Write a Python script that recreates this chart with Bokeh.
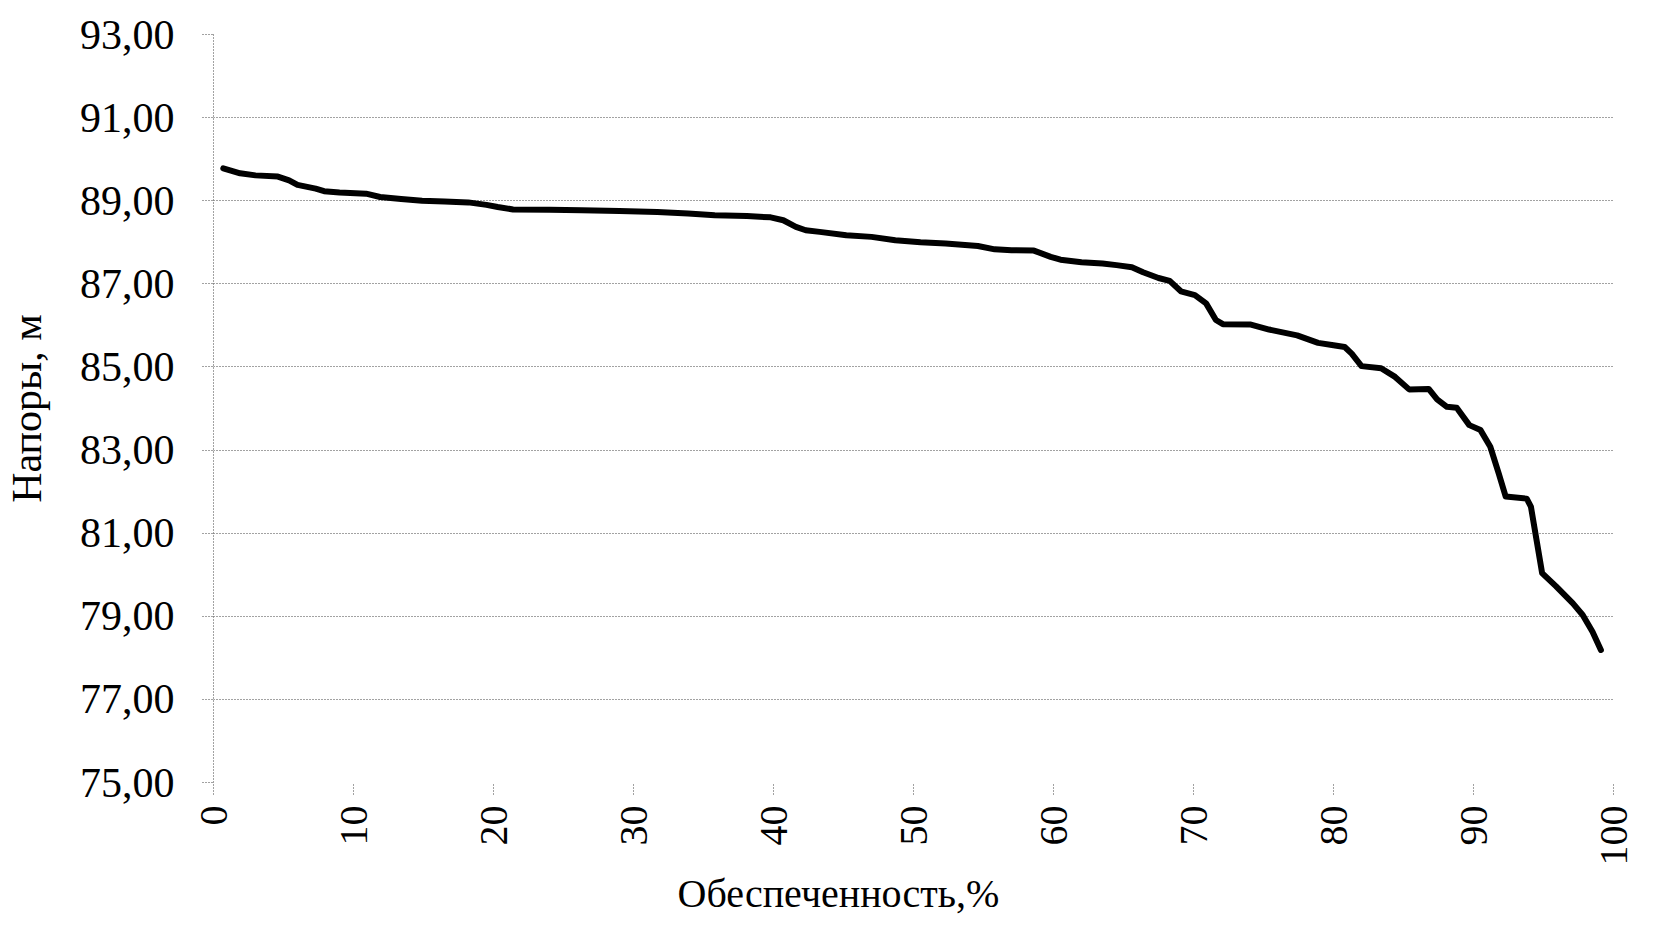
import math
from bokeh.plotting import figure
from bokeh.models import Range1d, FixedTicker, Title, ColumnDataSource
from bokeh.embed import file_html
from bokeh.resources import INLINE

# Data
supply_pct = [0.7, 1.9, 3.0, 4.6, 5.4, 6.0, 7.3, 7.9, 9.0, 10.9, 11.9, 13.4, 14.9, 16.5,
              18.2, 19.5, 20.3, 21.4, 24.0, 26.3, 29.0, 31.7, 33.9, 35.8, 38.1, 39.8,
              40.7, 41.6, 42.3, 43.3, 45.2, 47.0, 48.7, 50.5, 52.3, 54.6, 55.8, 57.0,
              58.6, 59.8, 60.5, 62.0, 63.5, 64.5, 65.6, 66.4, 67.5, 68.3, 69.1, 70.1,
              70.9, 71.6, 72.1, 74.1, 75.4, 77.4, 78.9, 80.0, 80.8, 81.3, 82.0, 83.4,
              84.4, 85.4, 86.8, 87.4, 88.1, 88.8, 89.7, 90.5, 91.2, 91.8, 92.3, 93.8,
              94.1, 94.5, 94.9, 95.9, 97.1, 97.8, 98.5, 99.1]
heads_m = [89.78, 89.66, 89.61, 89.58, 89.49, 89.38, 89.29, 89.23, 89.20, 89.17, 89.09,
           89.04, 89.00, 88.98, 88.96, 88.90, 88.85, 88.79, 88.78, 88.77, 88.75, 88.73,
           88.69, 88.65, 88.63, 88.60, 88.53, 88.37, 88.29, 88.25, 88.17, 88.13, 88.05,
           88.00, 87.97, 87.91, 87.83, 87.81, 87.80, 87.65, 87.58, 87.52, 87.49, 87.45,
           87.40, 87.28, 87.14, 87.07, 86.82, 86.73, 86.53, 86.13, 86.03, 86.02, 85.90,
           85.76, 85.58, 85.52, 85.48, 85.32, 85.02, 84.97, 84.76, 84.46, 84.47, 84.22,
           84.04, 84.02, 83.60, 83.48, 83.08, 82.44, 81.88, 81.83, 81.64, 80.84, 80.04,
           79.72, 79.31, 79.03, 78.63, 78.19]

x_ticks = [0, 10, 20, 30, 40, 50, 60, 70, 80, 90, 100]
y_ticks = [75, 77, 79, 81, 83, 85, 87, 89, 91, 93]
y_tick_labels = ["75,00", "77,00", "79,00", "81,00", "83,00", "85,00", "87,00",
                 "89,00", "91,00", "93,00"]
x_title = "Обеспеченность,%"
y_title = "Напоры, м"

FONT = "Liberation Serif"
GRID = "#444444"

p = figure(width=1638, height=915, output_backend="svg", toolbar_location=None,
           x_range=Range1d(0, 100), y_range=Range1d(75, 93),
           min_border_left=211, min_border_top=34, min_border_right=25,
           min_border_bottom=132)
p.outline_line_color = None
p.background_fill_color = "white"

src = ColumnDataSource(dict(x=supply_pct, y=heads_m))
p.line("x", "y", source=src, line_color="black", line_width=6,
       line_join="round", line_cap="round")

p.xgrid.visible = False
p.ygrid.ticker = FixedTicker(ticks=y_ticks)
p.ygrid.grid_line_color = GRID
p.ygrid.grid_line_dash = "1 2"
p.ygrid.grid_line_width = 1

for ax in (p.xaxis[0], p.yaxis[0]):
    ax.axis_line_color = GRID
    ax.axis_line_dash = "1 2"
    ax.major_tick_line_color = GRID
    ax.major_tick_line_dash = "1 2"
    ax.minor_tick_line_color = None
    ax.major_tick_in = 0
    ax.major_label_text_font = FONT
    ax.major_label_text_color = "black"

p.xaxis.ticker = FixedTicker(ticks=x_ticks)
p.xaxis.major_tick_out = 12
p.xaxis.major_label_standoff = 11
p.xaxis.major_label_orientation = math.pi / 2
p.xaxis.major_label_text_font_size = "40px"
p.xaxis.axis_line_color = None

p.yaxis.ticker = FixedTicker(ticks=y_ticks)
p.yaxis.major_label_overrides = {t: l for t, l in zip(y_ticks, y_tick_labels)}
p.yaxis.major_label_text_font_size = "42px"
p.yaxis.major_tick_out = 11
p.yaxis.major_label_standoff = 28
p.yaxis.axis_label = y_title
p.yaxis.axis_label_text_font = FONT
p.yaxis.axis_label_text_font_size = "42px"
p.yaxis.axis_label_text_font_style = "normal"
p.yaxis.axis_label_text_color = "black"
p.yaxis.axis_label_standoff = 27

t = Title(text=x_title, align="left", offset=464, text_font=FONT,
          text_font_size="40px", text_font_style="normal", text_color="black",
          standoff=0)
p.add_layout(t, "below")

open("out.html", "w").write(file_html(p, INLINE))
